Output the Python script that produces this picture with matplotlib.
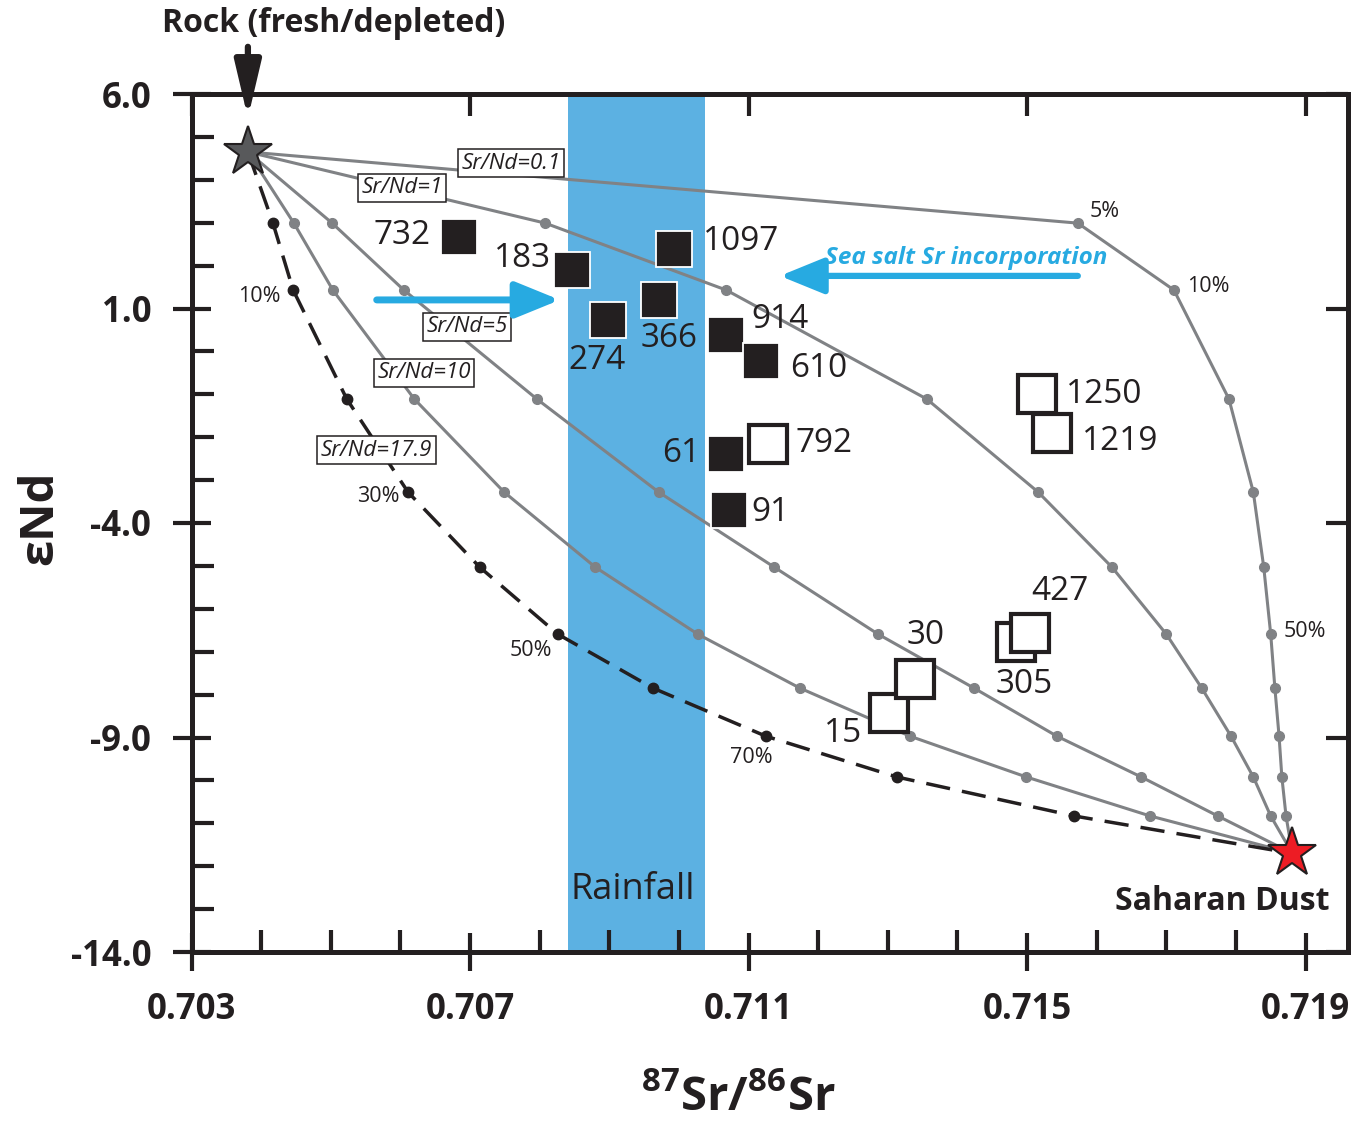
import matplotlib
matplotlib.use("Agg")
import matplotlib.pyplot as plt
from matplotlib.ticker import MultipleLocator, NullLocator

plt.rcParams['font.family'] = ['Open Sans', 'DejaVu Sans']
plt.rcParams['mathtext.fontset'] = 'custom'
plt.rcParams['mathtext.rm'] = 'Open Sans'
plt.rcParams['mathtext.bf'] = 'Open Sans:bold'
plt.rcParams['mathtext.it'] = 'Open Sans:italic'

# ---------------- data ----------------
dust_percent = [0, 5, 10, 20, 30, 40, 50, 60, 70, 80, 90, 100]
eps_nd_mix = [4.65, 2.99, 1.43, -1.11, -3.28, -5.03, -6.59, -7.85, -8.97, -9.92, -10.83, -11.70]

sr_srnd_0p1 = [0.70381, 0.71573, 0.71711, 0.71790, 0.71825, 0.71840, 0.71850, 0.71856, 0.71862, 0.71866, 0.71872, 0.71881]
sr_srnd_1 = [0.70381, 0.70808, 0.71068, 0.71356, 0.71516, 0.71622, 0.71700, 0.71751, 0.71793, 0.71825, 0.71850, 0.71881]
sr_srnd_5 = [0.70381, 0.70502, 0.70605, 0.70796, 0.70971, 0.71137, 0.71286, 0.71424, 0.71543, 0.71664, 0.71774, 0.71881]
sr_srnd_10 = [0.70381, 0.70447, 0.70503, 0.70620, 0.70749, 0.70880, 0.71027, 0.71174, 0.71332, 0.71499, 0.71677, 0.71881]
sr_srnd_17p9 = [0.70381, 0.70417, 0.70446, 0.70523, 0.70611, 0.70714, 0.70826, 0.70963, 0.71125, 0.71313, 0.71568, 0.71881]

rock_sr, rock_nd = 0.70381, 4.65
dust_sr, dust_nd = 0.71881, -11.70

rain_sr_range = [0.70841, 0.71037]

filled_labels = ['732', '183', '1097', '366', '274', '914', '610', '61', '91']
filled_sr = [0.70684, 0.70847, 0.70993, 0.70971, 0.70898, 0.71068, 0.71118, 0.71068, 0.71072]
filled_nd = [2.67, 1.90, 2.39, 1.20, 0.73, 0.38, -0.22, -2.39, -3.70]

open_labels = ['792', '1219', '1250', '305', '427', '15', '30']
open_sr = [0.71128, 0.71536, 0.71514, 0.71484, 0.71504, 0.71302, 0.71339]
open_nd = [-2.16, -1.90, -0.99, -6.77, -6.56, -8.43, -7.64]

x_major_ticks = [0.703, 0.707, 0.711, 0.715, 0.719]
y_major_ticks = [6.0, 1.0, -4.0, -9.0, -14.0]

# ---------------- layout (label offsets in px) ----------------
label_offset_px = {
    '732': (-57, 1), '183': (-50, 11), '1097': (67, 7), '274': (-11, -40),
    '366': (10, -39), '914': (54, 16), '610': (58, -8), '792': (56, 1),
    '61': (-45, 0), '91': (41, -2), '1250': (67, -1), '1219': (68, -9),
    '427': (30, 41), '30': (11, 44), '305': (8, -43), '15': (-46, -20),
}
ratio_labels = [('Sr/Nd=0.1', 0.70759, 4.39), ('Sr/Nd=1', 0.70602, 3.81),
                ('Sr/Nd=5', 0.70696, 0.57), ('Sr/Nd=10', 0.70634, -0.50),
                ('Sr/Nd=17.9', 0.70566, -2.30)]
pct_labels = [('5%', 0.71612, 3.27), ('10%', 0.71761, 1.52), ('50%', 0.71899, -6.52),
              ('10%', 0.70398, 1.27), ('30%', 0.70568, -3.39), ('50%', 0.70788, -6.98),
              ('70%', 0.71104, -9.46)]

GREY = '#808285'
INK = '#231F20'
BLUE = '#27AAE1'
BAND = '#5CB1E2'
PX = 0.72

fig = plt.figure(figsize=(13.6, 11.28), dpi=100)
ax = fig.add_axes([191.5 / 1360, 1 - 952 / 1128, (1348 - 191.5) / 1360, (952 - 94) / 1128])
ax.set_xlim(0.703, 0.71961)
ax.set_ylim(-14, 6)

ax.axvspan(rain_sr_range[0], rain_sr_range[1], color=BAND, lw=0, zorder=0)

inner = list(range(1, len(dust_percent) - 1))
for sr in [sr_srnd_0p1, sr_srnd_1, sr_srnd_5, sr_srnd_10]:
    ax.plot(sr, eps_nd_mix, color=GREY, lw=2.2, marker='o', ms=7, mfc=GREY, mec=GREY,
            markevery=inner, zorder=2, solid_capstyle='round')
ax.plot(sr_srnd_17p9, eps_nd_mix, color=INK, lw=2.5, ls=(0, (7, 3.5)), marker='o', ms=7.5,
        mfc=INK, mec=INK, markevery=inner, zorder=2)

for txt, x, y in ratio_labels:
    ax.text(x, y, txt, style='italic', fontsize=16, color=INK, ha='center', va='center',
            bbox=dict(boxstyle='square,pad=0.16', fc='white', ec=INK, lw=1.1), zorder=4)
for txt, x, y in pct_labels:
    ax.text(x, y, txt, fontsize=15.5, color=INK, ha='center', va='center', zorder=4)

ax.plot(filled_sr, filled_nd, ls='none', marker='s', ms=26, mfc=INK, mec='white', mew=1.3, zorder=5)
for lab, x, y in zip(open_labels, open_sr, open_nd):
    ax.plot(x, y, ls='none', marker='s', ms=27, mfc='white', mec=INK, mew=3, zorder=5)

for lab, x, y in zip(filled_labels + open_labels, filled_sr + open_sr, filled_nd + open_nd):
    dx, dy = label_offset_px[lab]
    ax.annotate(lab, (x, y), xytext=(dx * PX, dy * PX), textcoords='offset points',
                ha='center', va='center', fontsize=24, color=INK, zorder=5)

ax.plot(rock_sr, rock_nd, marker='*', ms=37, mfc='#58595B', mec=INK, mew=1.5, zorder=6)
ax.plot(dust_sr, dust_nd, marker='*', ms=37, mfc='#ED1C24', mec=INK, mew=1.5, zorder=6)

# arrows
ax.annotate('', xy=(0.70829, 1.20), xytext=(0.70566, 1.20),
            arrowprops=dict(arrowstyle='-|>,head_length=1.35,head_width=0.55', lw=5, color=BLUE,
                            mutation_scale=20, shrinkA=0, shrinkB=0), zorder=4)
ax.annotate('', xy=(0.71145, 1.76), xytext=(0.71573, 1.76),
            arrowprops=dict(arrowstyle='-|>,head_length=1.35,head_width=0.55', lw=4.5, color=BLUE,
                            mutation_scale=20, shrinkA=0, shrinkB=0), zorder=4)
ax.text(0.71412, 2.18, 'Sea salt Sr incorporation', color=BLUE, fontsize=17.5, fontweight='bold',
        style='italic', ha='center', va='center', zorder=4)
ax.annotate('', xy=(rock_sr, 5.44), xytext=(rock_sr, 7.1),
            arrowprops=dict(arrowstyle='-|>,head_length=1.7,head_width=0.4', lw=4.5, color=INK,
                            mutation_scale=20, shrinkA=0, shrinkB=0), annotation_clip=False, zorder=7)

ax.text(0.70934, -12.56, 'Rainfall', fontsize=26, color=INK, ha='center', va='center', zorder=3)
ax.text(0.71780, -12.83, 'Saharan Dust', fontsize=23, fontweight='bold', color=INK,
        ha='center', va='center', zorder=6)
fig.text(334 / 1360, 1 - 24 / 1128, 'Rock (fresh/depleted)', fontsize=23, fontweight='bold',
         color=INK, ha='center', va='center')

# axes labels
fig.text(40 / 1360, 1 - 518 / 1128, 'εNd', rotation=90, fontsize=34, fontweight='bold',
         color=INK, ha='center', va='center')
fig.text(738 / 1360, 1 - 1097 / 1128, r'$\mathbf{^{87}Sr/^{86}Sr}$', fontsize=34,
         color=INK, ha='center', va='center')

# ticks
ax.set_xticks(x_major_ticks, [f'{v:.3f}' for v in x_major_ticks], fontweight='bold', fontsize=25, color=INK)
ax.set_yticks(y_major_ticks, [f'{v:.1f}' for v in y_major_ticks], fontweight='bold', fontsize=25, color=INK)
ax.xaxis.set_minor_locator(MultipleLocator(0.001))
ax.yaxis.set_minor_locator(MultipleLocator(1))
ax.tick_params(which='major', direction='inout', length=28, width=3, color=INK, pad=15,
               top=False, right=False)
ax.tick_params(which='minor', direction='in', length=16, width=3, color=INK, top=False, right=False)
for s in ax.spines.values():
    s.set_linewidth(3.6)
    s.set_color(INK)

sx = ax.secondary_xaxis('top')
sx.set_xticks(x_major_ticks, ['' for _ in x_major_ticks])
sx.xaxis.set_minor_locator(NullLocator())
sx.tick_params(direction='in', length=16, width=3, color=INK)
sx.spines['top'].set_linewidth(3.6)
sy = ax.secondary_yaxis('right')
sy.set_yticks(y_major_ticks, ['' for _ in y_major_ticks])
sy.yaxis.set_minor_locator(NullLocator())
sy.tick_params(direction='in', length=16, width=3, color=INK)
sy.spines['right'].set_linewidth(3.6)

fig.savefig('out.png', dpi=100)
